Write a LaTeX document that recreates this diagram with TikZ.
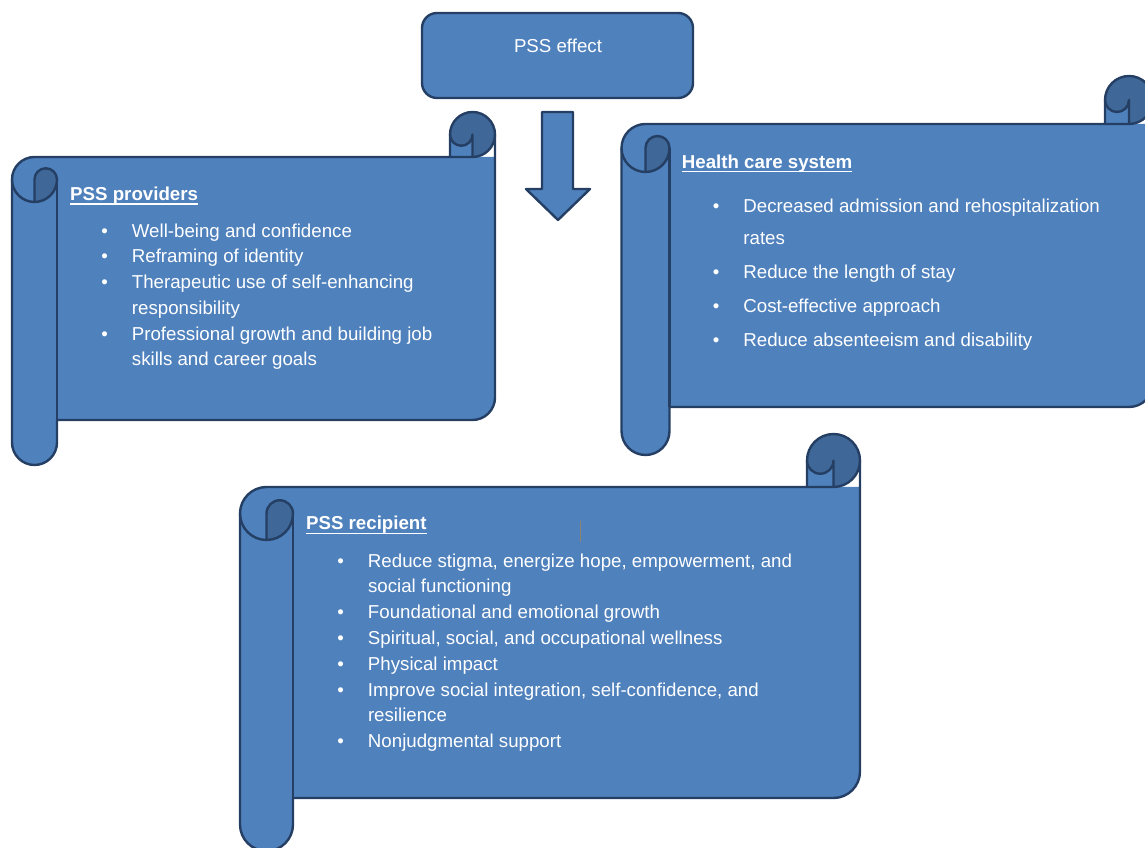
\documentclass[tikz,border=0pt]{standalone}
\usepackage{fontspec}
\setmainfont{Liberation Sans}
\usepackage{tikz}

\definecolor{scrollblue}{HTML}{4F81BD}
\definecolor{scrolldark}{HTML}{3F6797}
\definecolor{scrolledge}{HTML}{243F63}
\definecolor{cursorgray}{HTML}{8E8170}

\newcommand{\bul}{\llap{\textbullet\hspace{24pt}}}
\newcommand{\headul}[1]{\setbox0\hbox{#1}\rlap{\rule[-4.2pt]{\wd0}{1.6pt}}\box0}

% horizontal scroll: left, top, right, bottom, curl size
\newcommand{\drawscroll}[5]{%
  \pgfmathsetmacro{\xA}{#1+#5/2}\pgfmathsetmacro{\xB}{#1+#5}%
  \pgfmathsetmacro{\xC}{#3-#5}\pgfmathsetmacro{\xD}{#3-#5/2}%
  \pgfmathsetmacro{\yA}{#2-#5/2}\pgfmathsetmacro{\yB}{#2-#5}%
  \pgfmathsetmacro{\yC}{#2-1.5*#5}\pgfmathsetmacro{\yD}{#2-2*#5}%
  \pgfmathsetmacro{\yE}{#4+1.5*#5}\pgfmathsetmacro{\yF}{#4+#5}%
  \pgfmathsetmacro{\yG}{#4+#5/2}%
  \pgfmathsetmacro{\rA}{#5/2}\pgfmathsetmacro{\rB}{#5/4}%
  \fill[scrollblue] (#1,\yC) arc[start angle=180, end angle=90, radius=\rA]
    -- (#3,\yB) -- (#3,\yE) arc[start angle=0, end angle=-90, radius=\rA]
    -- (\xB,\yF) -- (\xB,\yG) arc[start angle=0, end angle=-180, radius=\rA] -- cycle;
  \fill[scrolldark] (\xD,\yA) circle[radius=\rA];
  \fill[scrollblue] (\xD,\yA) arc[start angle=0, end angle=-180, radius=\rB]
    -- (\xC,\yB) -- (\xD,\yB) -- cycle;
  \fill[scrolldark] (\xA,\yD) arc[start angle=-90, end angle=0, radius=\rA]
    arc[start angle=0, end angle=180, radius=\rB] -- cycle;
  \draw[scrollline] (#1,\yC) arc[start angle=180, end angle=90, radius=\rA]
    -- (\xC,\yB) -- (\xC,\yA) arc[start angle=180, end angle=0, radius=\rA]
    -- (#3,\yE) arc[start angle=0, end angle=-90, radius=\rA]
    -- (\xB,\yF) -- (\xB,\yG) arc[start angle=0, end angle=-180, radius=\rA] -- cycle;
  \draw[scrollline] (\xC,\yB) -- (\xD,\yB) arc[start angle=-90, end angle=0, radius=\rA];
  \draw[scrollline] (\xD,\yB) -- (\xD,\yA) arc[start angle=0, end angle=-180, radius=\rB];
  \draw[scrollline] (\xA,\yD) -- (\xA,\yC) arc[start angle=180, end angle=0, radius=\rB]
    arc[start angle=0, end angle=-90, radius=\rA] arc[start angle=-90, end angle=-180, radius=\rA];
  \draw[scrollline] (\xB,\yC) -- (\xB,\yF);
}

\begin{document}
\begin{tikzpicture}[x=1pt, y=1pt,
    scrollline/.style={draw=scrolledge, line width=2.4pt, line join=round},
    effectbox/.style={scrollline, fill=scrollblue, rounded corners=15pt, inner sep=0pt,
      minimum width=271pt, minimum height=85pt},
    bodytext/.style={text=white, font=\fontsize{18.7}{22}\selectfont, inner sep=0pt, anchor=base west},
    headtext/.style={bodytext, font=\fontsize{18.7}{22}\selectfont\bfseries}]
  \useasboundingbox (0,0) rectangle (1145,848);

  % top box and arrow
  \node[effectbox] (effect) at (557.5,792.5) {};
  \node[bodytext, anchor=base] (effecttext) at (558,795.7) {PSS effect};
  \filldraw[scrollline, fill=scrollblue] (542,736) -- (573,736) -- (573,659) -- (590,659)
    -- (558,628) -- (526,659) -- (542,659) -- cycle;

  % PSS providers
  \drawscroll{12}{736}{495}{383}{45}
  \node[headtext] (provhead) at (70,647.3) {\headul{PSS providers}};
  \node[bodytext] (prov1) at (131.7,610.7) {\bul Well-being and confidence};
  \node[bodytext] (prov2) at (131.7,585) {\bul Reframing of identity};
  \node[bodytext] (prov3) at (131.7,559.3) {\bul Therapeutic use of self-enhancing};
  \node[bodytext] (prov4) at (131.7,533.6) {responsibility};
  \node[bodytext] (prov5) at (131.7,507.9) {\bul Professional growth and building job};
  \node[bodytext] (prov6) at (131.7,482.2) {skills and career goals};

  % Health care system
  \drawscroll{621.5}{772}{1153}{393}{48}
  \node[headtext] (hcshead) at (681.7,679.7) {\headul{Health care system}};
  \node[bodytext] (hcs1) at (743.2,635.3) {\bul Decreased admission and rehospitalization};
  \node[bodytext] (hcs2) at (743.2,603) {rates};
  \node[bodytext] (hcs3) at (743.2,569) {\bul Reduce the length of stay};
  \node[bodytext] (hcs4) at (743.2,535.3) {\bul Cost-effective approach};
  \node[bodytext] (hcs5) at (743.2,501.3) {\bul Reduce absenteeism and disability};

  % PSS recipient
  \drawscroll{240}{414}{860}{-3}{53}
  \node[headtext] (rechead) at (305.9,318) {\headul{PSS recipient}};
  \node[bodytext] (rec1) at (367.8,280.3) {\bul Reduce stigma, energize hope, empowerment, and};
  \node[bodytext] (rec2) at (367.8,255.7) {social functioning};
  \node[bodytext] (rec3) at (367.8,229.7) {\bul Foundational and emotional growth};
  \node[bodytext] (rec4) at (367.8,203) {\bul Spiritual, social, and occupational wellness};
  \node[bodytext] (rec5) at (367.8,177.3) {\bul Physical impact};
  \node[bodytext] (rec6) at (367.8,151.3) {\bul Improve social integration, self-confidence, and};
  \node[bodytext] (rec7) at (367.8,126.3) {resilience};
  \node[bodytext] (rec8) at (367.8,100.3) {\bul Nonjudgmental support};
  \draw[cursorgray, line width=1pt] (580,327) -- (580,306.3);
\end{tikzpicture}
\end{document}
